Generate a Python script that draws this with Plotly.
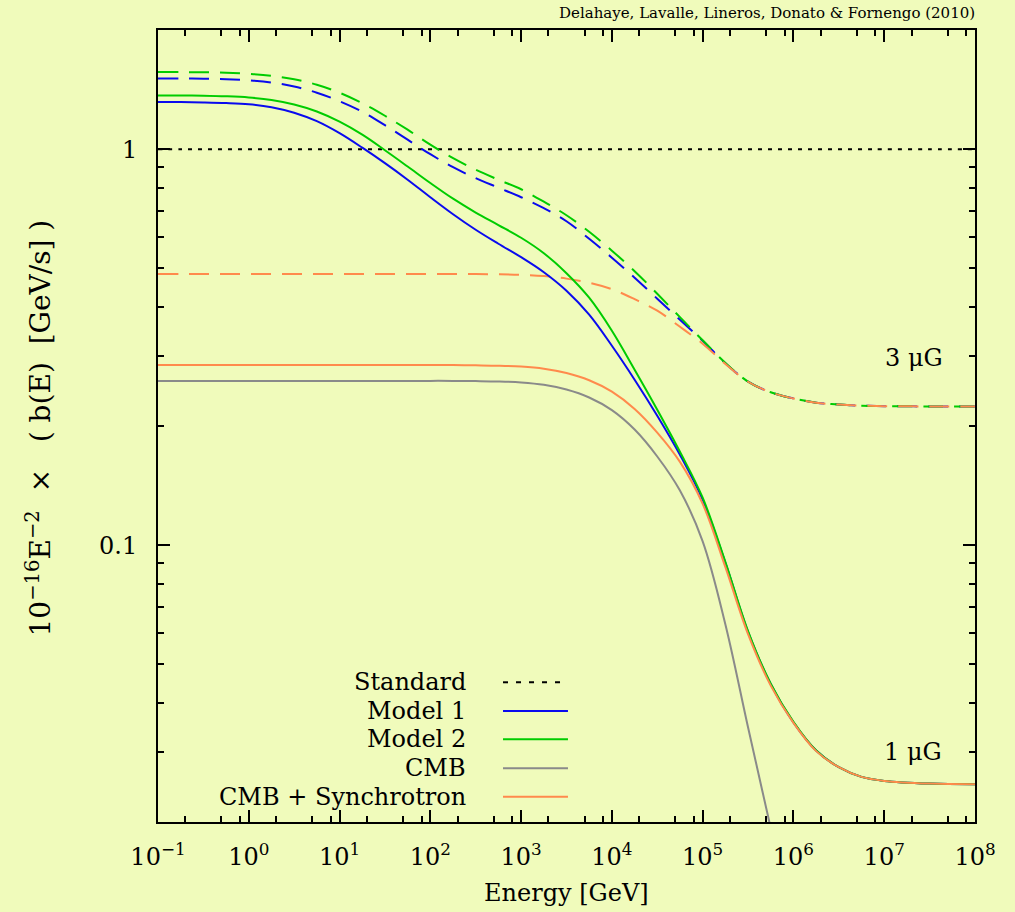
import plotly.graph_objects as go

# ---------------- data ----------------
energy_gev = [0.1, 0.178, 0.316, 0.562, 1, 1.78, 3.16, 5.62, 10, 17.8, 31.6, 56.2,
              100, 178, 316, 562, 1e3, 1.78e3, 3.16e3, 5.62e3, 1e4, 1.78e4,
              3.16e4, 5.62e4, 1e5, 1.78e5, 3.16e5, 5.62e5, 1e6, 1.78e6, 3.16e6,
              5.62e6, 1e7, 3.16e7, 1e8]

standard = [1.0] * len(energy_gev)

model1_1uG = [1.3157, 1.3150, 1.3127, 1.3082, 1.2991, 1.2767, 1.2364, 1.1769,
              1.0975, 1.0088, 0.9219, 0.8376, 0.7564, 0.6852, 0.6261, 0.5771,
              0.5337, 0.4891, 0.4392, 0.3821, 0.3189, 0.2618, 0.2123, 0.1692,
              0.1302, 0.0902, 0.0604, 0.0446, 0.0357, 0.0303, 0.0275, 0.0260,
              0.0254, 0.0250, 0.0249]

model2_1uG = [1.3674, 1.3666, 1.3650, 1.3603, 1.3508, 1.3313, 1.2967, 1.2452,
              1.1734, 1.0880, 0.9942, 0.9044, 0.8216, 0.7499, 0.6920, 0.6434,
              0.5976, 0.5462, 0.4863, 0.4217, 0.3480, 0.2775, 0.2199, 0.1722,
              0.1318, 0.0907, 0.0607, 0.0447, 0.0358, 0.0303, 0.0275, 0.0260,
              0.0254, 0.0250, 0.0249]

cmb_only = [0.260, 0.260, 0.260, 0.260, 0.260, 0.260, 0.260, 0.260, 0.260,
            0.260, 0.260, 0.260, 0.260, 0.260, 0.2597, 0.2591, 0.2576, 0.2541,
            0.2472, 0.2360, 0.2193, 0.1959, 0.1675, 0.1374, 0.1023, 0.0631,
            0.0347, 0.0193, 0.0107]

cmb_sync_1uG = [0.285, 0.285, 0.285, 0.285, 0.285, 0.285, 0.285, 0.285, 0.285,
                0.285, 0.285, 0.285, 0.285, 0.285, 0.2846, 0.2840, 0.2825,
                0.2790, 0.2721, 0.2609, 0.2442, 0.2208, 0.1924, 0.1623, 0.1272,
                0.0880, 0.0596, 0.0442, 0.0356, 0.0302, 0.0275, 0.0260, 0.0254,
                0.0250, 0.0249]

model1_3uG = [1.5095, 1.5086, 1.5069, 1.5025, 1.4929, 1.4739, 1.4400, 1.3890,
              1.3221, 1.2437, 1.1499, 1.0568, 0.9713, 0.9006, 0.8449, 0.7995,
              0.7564, 0.7097, 0.6579, 0.5941, 0.5322, 0.4736, 0.4193, 0.3710,
              0.3283, 0.2881, 0.2588, 0.2433, 0.2347, 0.2291, 0.2265, 0.2251,
              0.2245, 0.2241, 0.2240]

model2_3uG = [1.5668, 1.5659, 1.5641, 1.5595, 1.5505, 1.5326, 1.5016, 1.4552,
              1.3890, 1.3068, 1.2148, 1.1200, 1.0265, 0.9490, 0.8876, 0.8376,
              0.7924, 0.7370, 0.6813, 0.6189, 0.5543, 0.4920, 0.4315, 0.3766,
              0.3293, 0.2886, 0.2589, 0.2434, 0.2347, 0.2291, 0.2265, 0.2251,
              0.2245, 0.2241, 0.2240]

cmb_sync_3uG = [0.484, 0.484, 0.484, 0.484, 0.484, 0.484, 0.484, 0.484, 0.484,
                0.484, 0.484, 0.484, 0.484, 0.484, 0.4837, 0.4831, 0.4816,
                0.4781, 0.4712, 0.4600, 0.4431, 0.4181, 0.3911, 0.3562, 0.3227,
                0.2868, 0.2587, 0.2433, 0.2347, 0.2291, 0.2265, 0.2251, 0.2245,
                0.2241, 0.2240]

x_tick_vals = [0.1, 1, 10, 100, 1e3, 1e4, 1e5, 1e6, 1e7, 1e8]
x_tick_text = ["10<sup>−1</sup>", "10<sup>0</sup>", "10<sup>1</sup>", "10<sup>2</sup>",
               "10<sup>3</sup>", "10<sup>4</sup>", "10<sup>5</sup>", "10<sup>6</sup>",
               "10<sup>7</sup>", "10<sup>8</sup>"]
x_minor_vals = [m * 10.0 ** d for d in range(-1, 8) for m in (2, 5, 8)]
y_tick_vals = [0.1, 1]
y_tick_text = ["0.1", "1"]
y_minor_vals = [m * 10.0 ** d for d in (-2, -1, 0) for m in range(2, 10)]

legend_labels = ["Standard", "Model 1", "Model 2", "CMB", "CMB + Synchrotron"]

# ---------------- style ----------------
BG = "#f0fbbb"
BLUE = "#0a0aee"
GREEN = "#00cc00"
GRAY = "#8a8a8a"
ORANGE = "#ff8a4c"
BLACK = "#000000"
FONT = "DejaVu Serif"
DASH = "20px,11px"
DOT = "4px,6px"
NB = "\u00a0"

fig = go.Figure()


def add(y, color, dash, w=2.0):
    xs = energy_gev[:len(y)]
    fig.add_trace(go.Scatter(x=xs, y=y, mode="lines", showlegend=False,
                             line=dict(color=color, width=w, dash=dash,
                                       shape="spline", smoothing=1.0)))


add(standard, BLACK, DOT)
add(model1_3uG, BLUE, DASH)
add(model2_3uG, GREEN, DASH)
add(cmb_sync_3uG, ORANGE, DASH)
add(model1_1uG, BLUE, "solid")
add(model2_1uG, GREEN, "solid")
add(cmb_only, GRAY, "solid")
add(cmb_sync_1uG, ORANGE, "solid")

axis_common = dict(
    type="log", showline=True, linecolor=BLACK, linewidth=2, mirror="ticks",
    ticks="inside", ticklen=12, tickwidth=1.5, tickcolor=BLACK,
    showgrid=False, zeroline=False,
    tickfont=dict(family=FONT, size=24, color=BLACK),
)

fig.update_layout(
    width=1015, height=912,
    margin=dict(l=158, r=40, t=30, b=90),
    paper_bgcolor=BG, plot_bgcolor=BG,
    font=dict(family=FONT, color=BLACK),
    xaxis=dict(**axis_common, range=[-1, 8], tickmode="array",
               tickvals=x_tick_vals, ticktext=x_tick_text, ticklabelstandoff=12,
               minor=dict(ticks="inside", ticklen=6, tickwidth=1.5,
                          tickcolor=BLACK, tickmode="array", tickvals=x_minor_vals)),
    yaxis=dict(**axis_common, range=[-1.69897, 0.30103], tickmode="array",
               tickvals=y_tick_vals, ticktext=y_tick_text, ticklabelstandoff=14,
               minor=dict(ticks="inside", ticklen=6, tickwidth=1.5,
                          tickcolor=BLACK, tickmode="array", tickvals=y_minor_vals)),
)

ytitle = ("10<sup>−16</sup>E<sup>−2</sup>" + NB * 2 + "×" + NB * 3 + "(" + NB
          + "b(E)" + NB * 2 + "[GeV/s]" + NB + ")")

annos = [
    dict(text="Delahaye, Lavalle, Lineros, Donato &amp; Fornengo (2010)",
         x=1.0025, y=1.021, xanchor="right", yanchor="middle",
         font=dict(size=15)),
    dict(text="Energy [GeV]", x=0.5006, y=-0.0896, xanchor="center",
         yanchor="middle", font=dict(size=24)),
    dict(text=ytitle, x=-0.145, y=0.4975, xanchor="center", yanchor="middle",
         textangle=-90, font=dict(size=28)),
    dict(text="3 μG", x=0.963, y=0.586, xanchor="right", yanchor="middle",
         font=dict(size=24)),
    dict(text="1 μG", x=0.962, y=0.0884, xanchor="right", yanchor="middle",
         font=dict(size=24)),
]
for a in annos:
    a.update(xref="paper", yref="paper", showarrow=False)
    a["font"] = dict(family=FONT, color=BLACK, **a["font"])

leg_y = [0.1764, 0.1402, 0.1044, 0.0678, 0.0319]
leg_style = [(BLACK, "5px,8px"), (BLUE, "solid"), (GREEN, "solid"),
             (GRAY, "solid"), (ORANGE, "solid")]
shapes = []
for lab, yy, (c, d) in zip(legend_labels, leg_y, leg_style):
    annos.append(dict(text=lab, x=0.3794, y=yy, xref="paper", yref="paper",
                      xanchor="right", yanchor="middle", showarrow=False,
                      font=dict(family=FONT, size=24, color=BLACK)))
    shapes.append(dict(type="line", xref="paper", yref="paper",
                       x0=0.4223, x1=0.5018, y0=yy, y1=yy,
                       line=dict(color=c, width=2, dash=d)))

fig.update_layout(annotations=annos, shapes=shapes)
fig.write_html("out.html")
